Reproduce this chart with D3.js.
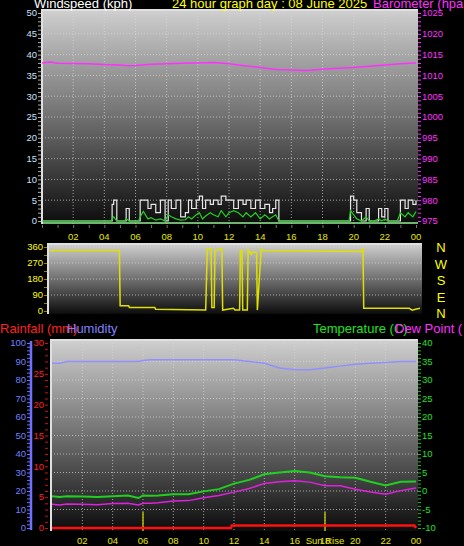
<!DOCTYPE html>
<html>
<head>
<meta charset="utf-8">
<script src="https://d3js.org/d3.v7.min.js"></script>
<style>
body { margin:0; background:#000; }
text { font-family: "Liberation Sans", Arial, sans-serif; }
</style>
</head>
<body>
<div id="chart"></div>
<script>
// ---- data (hours 0..24) ----
const windHours = [0,4.4,4.5,4.6,4.8,5.3,5.4,5.6,6.2,6.3,6.5,6.8,7,7.3,7.6,7.9,8.1,8.3,8.6,8.9,9.2,9.4,9.6,9.9,10.1,10.3,10.5,10.8,11,11.3,11.5,11.8,12,12.3,12.6,12.9,13.1,13.4,13.7,14,14.3,14.6,14.8,15,15.2,19.7,19.8,20,20.2,20.5,20.8,21,21.3,21.6,21.8,22,22.2,22.8,23,23.3,23.5,23.8,24];
const windGust  = [0,0,4,5,0,0,3,0,0,5,5,3,4,2,5,0,5,3,5,1,2,5,3,5,6,3,5,4,5,4,6,5,5,3,5,4,5,3,5,3,4,2,3,5,0,0,6,5,2,0,3,0,0,3,1,3,0,0,5,3,5,4,5];
const windAvg   = [0,0,0.5,1,0,0,0.5,0,0,1,2.3,0.5,0.8,0.2,0.5,0,1.5,1,0.5,0.2,0.3,1,0.5,1.5,2,0.5,1.2,2,1.5,1,2.5,1,2,2.5,2,1,2,1,2,0.5,1.5,0.5,1,1.5,0,0,2.5,1.5,0.5,0,1,0,0,0.5,0,0.5,0,0,2,1,2,1,2.3];
const baroHours = [0,0.5,1,3,4,5,5.5,6,7,8,9,10,11,12,13,14,15,16,17,18,19,20,21,22,23,24];
const baro      = [1013.0,1013.2,1012.9,1012.8,1012.6,1012.5,1012.3,1012.4,1012.7,1012.8,1012.9,1013.0,1013.1,1012.8,1012.3,1011.9,1011.4,1011.3,1011.2,1011.5,1011.7,1011.9,1012.2,1012.5,1012.8,1013.0];
const dirHours = [0,4.5,4.55,5.1,5.15,6.8,6.85,10.1,10.2,10.45,10.5,10.65,10.7,11.15,11.2,11.9,12,12.3,12.35,12.45,12.5,12.8,12.85,13.05,13.1,13.4,13.45,13.7,13.8,20.2,20.3,20.35,23.3,23.5,23.7,24];
const dirDeg   = [340,340,30,30,20,20,10,5,350,350,20,20,340,350,5,15,5,5,340,340,5,5,345,320,330,330,5,350,340,335,355,15,15,5,10,15];
const thHours = [0,0.5,1,2,3,4,5,5.7,6,6.5,7,8,9,10,11,12,13,14,15,16,17,18,19,20,21,22,23,24];
const humidity = [89,89,90,90,90,90,90,90,90.5,91,91,91,91,91,91,91,90,89,86.5,85.5,85.5,86.5,87.5,88.5,89,89.5,90,90];
const temperature = [-1.4,-1.6,-1.4,-1.5,-1.6,-1.4,-1.2,-1.9,-1.2,-1.3,-1.2,-0.9,-0.9,-0.1,0.5,2.0,3.0,4.5,5.0,5.4,5.0,4.0,3.7,3.6,2.5,1.5,2.5,2.6];
const dewPoint = [-3.6,-3.8,-3.5,-3.6,-3.7,-3.4,-3.3,-3.8,-3.3,-3.3,-3.2,-2.7,-2.6,-1.8,-1.2,-0.3,0.7,2.0,2.5,2.8,2.4,1.4,1.4,0.5,-0.3,-0.9,0.1,0.8];
const rainHours = [0,11.8,11.85,23.9,24];
const rain = [0,0,0.4,0.4,0];
const sunEvents = [6, 18];
const hourTicks = [2,4,6,8,10,12,14,16,18,20,22,24];
const hourLabel = h => String(h % 24).padStart(2, "0");

const W = 464, H = 546;
const svg = d3.select("#chart").append("svg").attr("width", W).attr("height", H)
  .style("background", "#000");

const defs = svg.append("defs");
const grad = defs.append("linearGradient").attr("id", "bg").attr("x1", 0).attr("y1", 0).attr("x2", 0).attr("y2", 1);
grad.append("stop").attr("offset", "0%").attr("stop-color", "#cfcfcf");
grad.append("stop").attr("offset", "50%").attr("stop-color", "#707070");
grad.append("stop").attr("offset", "100%").attr("stop-color", "#0c0c0c");

function panel(x0, y0, x1, y1) {
  svg.append("rect").attr("x", x0).attr("y", y0).attr("width", x1 - x0).attr("height", y1 - y0)
    .attr("fill", "url(#bg)");
  svg.append("path").attr("d", `M${x0},${y1}V${y0}H${x1}`).attr("fill", "none")
    .attr("stroke", "#e0e0e0").attr("stroke-width", 2);
}
function grid(x, y, xs, ys, x0, x1, y0, y1) {
  const g = svg.append("g").attr("stroke", "#d8d8d8").attr("stroke-width", 1)
    .attr("stroke-dasharray", "1,2").attr("opacity", 0.7);
  xs.forEach(h => g.append("line").attr("x1", x(h)).attr("x2", x(h)).attr("y1", y0).attr("y2", y1));
  ys.forEach(v => g.append("line").attr("x1", x0).attr("x2", x1).attr("y1", y(v)).attr("y2", y(v)));
}
function yAxis(scale, xPos, left, labels, minor, color, tickColor) {
  const g = svg.append("g").attr("transform", `translate(${xPos},0)`);
  g.call((left ? d3.axisLeft(scale) : d3.axisRight(scale)).tickValues(minor).tickSize(3).tickFormat(""));
  g.call(gg => gg.selectAll("line").attr("stroke", tickColor));
  g.select(".domain").remove();
  labels.forEach(v => g.append("text").attr("x", left ? -4 : 4).attr("y", scale(v)).attr("dy", "0.35em")
    .attr("text-anchor", left ? "end" : "start").attr("font-size", 9.5).attr("fill", color).text(v));
}
function xLabels(x, y, labels) {
  labels.forEach(h => svg.append("text").attr("x", x(h)).attr("y", y).attr("text-anchor", "middle")
    .attr("font-size", 9.5).attr("fill", "#e6e600").text(hourLabel(h)));
}
function line(x, y, xs, vs, color, width, curve) {
  svg.append("path").datum(xs.map((h, i) => [h, vs[i]]))
    .attr("fill", "none").attr("stroke", color).attr("stroke-width", width)
    .attr("d", d3.line().x(d => x(d[0])).y(d => y(d[1])).curve(curve || d3.curveLinear));
}

// ---- panel 1: wind speed / barometer ----
const x1 = d3.scaleLinear().domain([0, 24]).range([42, 416]);
const yWind = d3.scaleLinear().domain([0, 50]).range([221, 13]);
const yBaro = d3.scaleLinear().domain([975, 1025]).range([221, 13]);
panel(42, 10, 418, 224);
grid(x1, yWind, hourTicks.slice(0, -1), d3.range(5, 51, 5), 42, 418, 10, 224);
line(x1, yBaro, baroHours, baro, "#ff30ff", 1.5);
line(x1, yWind, windHours, windGust, "#e8e8e8", 1.2, d3.curveStepAfter);
line(x1, yWind, windHours, windAvg, "#20d020", 1.2);
svg.append("line").attr("x1", 43).attr("x2", 418).attr("y1", 223).attr("y2", 223).attr("stroke", "#90ee90").attr("stroke-width", 1.5);
yAxis(yWind, 41, true, d3.range(0, 51, 5), d3.range(0, 51, 1), "#c8e0ff", "#aaaaaa");
yAxis(yBaro, 418, false, d3.range(975, 1026, 5), d3.range(975, 1026, 1), "#ff30ff", "#ff30ff");
svg.append("g").attr("transform", "translate(0,225)")
  .call(d3.axisBottom(x1).tickValues(d3.range(0, 24.1, 1)).tickSize(3).tickFormat(""))
  .call(g => { g.select(".domain").remove(); g.selectAll("line").attr("stroke", "#777"); });
xLabels(x1, 240, hourTicks);

svg.append("text").attr("x", 34).attr("y", 8).attr("font-size", 13).attr("fill", "#fff").text("Windspeed (kph)");
svg.append("text").attr("x", 172).attr("y", 8).attr("font-size", 13).attr("fill", "#ffff00").text("24 hour graph day : 08 June 2025");
svg.append("text").attr("x", 373).attr("y", 8).attr("font-size", 13).attr("fill", "#ff30ff").text("Barometer (hpa");

// ---- panel 2: wind direction ----
const x2 = d3.scaleLinear().domain([0, 24]).range([50, 420]);
const yDir = d3.scaleLinear().domain([0, 360]).range([311, 247]);
panel(48, 244, 422, 314);
grid(x2, yDir, [], [90, 180, 270, 360], 48, 422, 244, 314);
line(x2, yDir, dirHours, dirDeg, "#e0e000", 1.5);
yAxis(yDir, 47, true, [0, 90, 180, 270, 360], d3.range(0, 361, 45), "#ffff00", "#888800");
["N", "W", "S", "E", "N"].forEach((t, i) => svg.append("text").attr("x", 441).attr("y", 252 + i * 16.5)
  .attr("text-anchor", "middle").attr("font-size", 13).attr("fill", "#ffff00").text(t));

// ---- panel 3: humidity / rain / temperature ----
const x3 = d3.scaleLinear().domain([0, 24]).range([52, 416]);
const yHum = d3.scaleLinear().domain([0, 100]).range([528, 343]);
const yRain = d3.scaleLinear().domain([0, 30]).range([528, 343]);
const yTemp = d3.scaleLinear().domain([-10, 40]).range([528, 343]);
panel(51, 340, 418, 531);
grid(x3, yTemp, hourTicks.slice(0, -1), d3.range(-5, 41, 5), 51, 418, 340, 531);
line(x3, yHum, thHours, humidity, "#9090ff", 1.5);
line(x3, yTemp, thHours, temperature, "#20d020", 2);
line(x3, yTemp, thHours, dewPoint, "#e020e0", 1.5);
sunEvents.forEach(h => svg.append("line").attr("x1", x3(h)).attr("x2", x3(h)).attr("y1", 512).attr("y2", 531)
  .attr("stroke", "#b8b800").attr("stroke-width", 1.5));
line(x3, yRain, rainHours, rain, "#ff1010", 2.5);
svg.append("line").attr("x1", 31).attr("x2", 31).attr("y1", 341).attr("y2", 530).attr("stroke", "#7070ff").attr("stroke-width", 2.5);
yAxis(yHum, 30, true, d3.range(0, 101, 10), d3.range(0, 101, 2), "#7080ff", "#7070ff");
yAxis(yRain, 48, true, d3.range(0, 31, 5), d3.range(0, 31, 1), "#ff2020", "#d01010");
yAxis(yTemp, 418, false, d3.range(-10, 41, 5), d3.range(-10, 41, 1), "#20e020", "#20c020");
xLabels(x3, 546 - 2, hourTicks);
svg.append("text").attr("x", x3(18)).attr("y", 544).attr("text-anchor", "middle")
  .attr("font-size", 9.5).attr("fill", "#e6e600").text("Sun Rise");

svg.append("text").attr("x", 0).attr("y", 333).attr("font-size", 13).attr("fill", "#ff2020").text("Rainfall (mm)");
svg.append("text").attr("x", 67).attr("y", 333).attr("font-size", 13).attr("fill", "#8080ff").text("Humidity");
svg.append("text").attr("x", 313).attr("y", 333).attr("font-size", 13).attr("fill", "#20e020").text("Temperature (C)");
svg.append("text").attr("x", 395).attr("y", 333).attr("font-size", 13).attr("fill", "#ff30ff").text("Dew Point (");
</script>
</body>
</html>
